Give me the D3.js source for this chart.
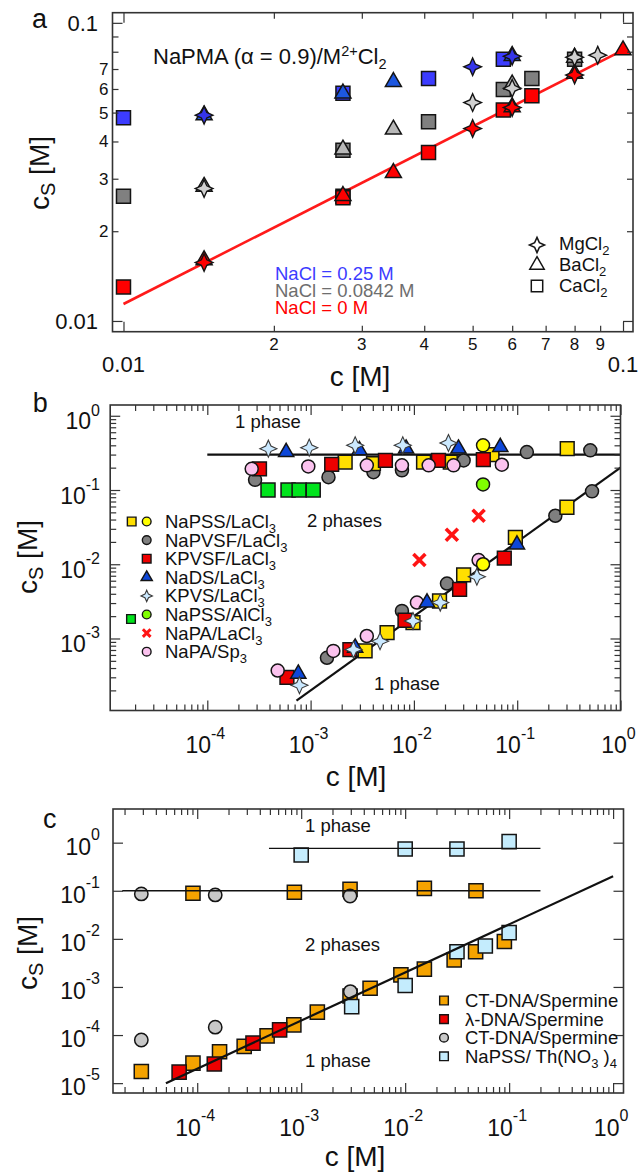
<!DOCTYPE html>
<html>
<head>
<meta charset="utf-8">
<script src="https://cdn.jsdelivr.net/npm/d3@7"></script>
<style>
  body { margin: 0; background: #fff; }
  svg { display: block; font-family: "Liberation Sans", Arial, Helvetica, sans-serif; }
</style>
</head>
<body>
<svg id="chart" width="638" height="1173"></svg>
<script>
// ---------- panel a : NaPMA / M2+Cl2, points are [c, cs] in M ----------
const aSqBlue   = [[0.01,0.048],[0.0275,0.058],[0.0408,0.065],[0.0576,0.0755]];
const aSqGray   = [[0.01,0.0262],[0.0275,0.0262],[0.0275,0.0374],[0.0408,0.0466],[0.0576,0.0598],[0.0657,0.0651],[0.08,0.0755]];
const aSqRed    = [[0.01,0.013],[0.0275,0.0259],[0.0408,0.0367],[0.0576,0.051],[0.0657,0.0569]];
const aTriBlue  = [[0.0145,0.049],[0.0275,0.058],[0.0347,0.0634],[0.06,0.0775]];
const aTriGray  = [[0.0145,0.0282],[0.0275,0.0376],[0.0347,0.0439],[0.06,0.0622],[0.08,0.0765]];
const aTriRed   = [[0.0145,0.016],[0.0275,0.0263],[0.0347,0.0314],[0.06,0.0522],[0.08,0.0675],[0.1,0.081]];
const aStarBlue = [[0.0145,0.049],[0.05,0.0712],[0.06,0.0772]];
const aStarGray = [[0.0145,0.0278],[0.05,0.054],[0.06,0.0603],[0.08,0.0766],[0.089,0.0779]];
const aStarRed  = [[0.0145,0.0157],[0.05,0.0442],[0.06,0.052],[0.08,0.0668]];
const aFit      = [[0.01,0.0114],[0.1,0.081]];
const aXTicks = [0.01, 0.1],  aXTickLabels = ['0.01', '0.1'];
const aXMinor = [0.02,0.03,0.04,0.05,0.06,0.07,0.08,0.09], aXMinorLabels = ['2','3','4','5','6','7','8','9'];
const aYTicks = [0.01, 0.1],  aYTickLabels = ['0.01', '0.1'];
const aYMinor = [0.02,0.03,0.04,0.05,0.06,0.07], aYMinorLabels = ['2','3','4','5','6','7'];
const aSaltLabels = ['NaCl = 0.25 M', 'NaCl = 0.0842 M', 'NaCl = 0 M'];
const aShapeLabels = ['MgCl', 'BaCl', 'CaCl'];

// ---------- panel b : trivalent salts ----------
const bNaPSSsq  = [[2.16e-3,0.238],[4.06e-3,0.226],[0.0124,0.238],[0.0225,0.238],[0.057,0.3],[0.305,0.36],
                   [3.37e-3,6.8e-4],[5.5e-3,1.2e-3],[9.8e-3,1.64e-3],[0.0177,3.2e-3],[0.0303,7.2e-3],[0.096,0.023],[0.303,0.0586]];
const bNaPSScir = [[0.0467,0.4],[0.0467,0.01]];
const bNaPVSF   = [[2.9e-4,0.137],[1.49e-3,0.149],[4.06e-3,0.174],[7.66e-3,0.184],[0.0303,0.25],[0.124,0.324],[0.51,0.342],
                   [1.44e-3,5.5e-4],[7.66e-3,2.35e-3],[0.0209,5.5e-3],[0.234,0.045],[0.53,0.096]];
const bKPVSF    = [[3.2e-4,0.193],[1.6e-3,0.221],[5.3e-3,0.25],[0.0173,0.25],[0.047,0.256],
                   [5.9e-4,3e-4],[2.4e-3,7.1e-4],[8.2e-3,1.76e-3],[0.0277,4.6e-3],[0.075,0.0121]];
const bNaDS     = [[5.8e-4,0.324],[2.97e-3,0.342],[8.4e-3,0.36],[0.027,0.36],[0.0686,0.379],
                   [7.6e-4,3.35e-4],[2.7e-3,7.5e-4],[0.0134,3.05e-3],[0.0995,0.0184]];
const bKPVS     = [[3.9e-4,0.36],[9.7e-4,0.372],[2.7e-3,0.4],[7.8e-3,0.4],[0.0216,0.43],
                   [7.8e-4,2.35e-4],[2.6e-3,7.1e-4],[4.7e-3,9.2e-4],[9.8e-3,1.72e-3],[0.018,3.05e-3],[0.0407,6.8e-3]];
const bNaPSSAl  = [[0.0467,0.119]];
const bGreenSq  = [[3.87e-4,0.1],[6.05e-4,0.1],[7.74e-4,0.1],[1.06e-3,0.1]];
const bNaPA     = [[0.0113,0.0114],[0.0233,0.025],[0.0423,0.045]];
const bNaPASp   = [[2.69e-4,0.193],[9.5e-4,0.208],[3.5e-3,0.215],[7.66e-3,0.215],[0.0139,0.215],[0.0242,0.215],[0.071,0.219],
                   [4.8e-4,3.7e-4],[1.66e-3,6.8e-4],[3.5e-3,1.08e-3],[0.0107,3.05e-3],[0.0423,0.0114]];
const bUpper = [[1e-4,0.3],[1,0.3]];
const bLower = [[7.3e-4,1.46e-4],[1,0.2]];
const bXExp = [-4,-3,-2,-1,0];
const bYExp = [-3,-2,-1,0];
const bLegend = ['NaPSS/LaCl', 'NaPVSF/LaCl', 'KPVSF/LaCl', 'NaDS/LaCl', 'KPVS/LaCl', 'NaPSS/AlCl', 'NaPA/LaCl', 'NaPA/Sp'];

// ---------- panel c : DNA / spermine, NaPSS / Th4+ ----------
const cCTsq   = [[9.1e-5,0.0886],[8.6e-4,0.093],[2.95e-3,0.107],[0.0153,0.112],[0.048,0.1],
                 [2.9e-5,1.75e-5],[9.1e-5,2.6e-5],[1.64e-4,4.5e-5],[2.83e-4,5.8e-5],[4.7e-4,9.6e-5],[8.5e-4,1.63e-4],
                 [1.43e-3,3e-4],[2.95e-3,6.5e-4],[4.6e-3,9.4e-4],[9.1e-3,1.78e-3],[0.0153,2.34e-3],[0.0296,3.65e-3],
                 [0.0476,5.4e-3],[0.09,8.8e-3]];
const cLambda = [[6.7e-5,1.7e-5],[1.46e-4,2.5e-5],[3.44e-4,6.8e-5],[6.2e-4,1.28e-4]];
const cCTcirc = [[2.9e-5,0.086],[1.49e-4,0.082],[2.95e-3,0.078],[2.9e-5,7.9e-5],[1.49e-4,1.46e-4],[2.97e-3,8e-4]];
const cNaPSSTh = [[1e-3,0.555],[0.01,0.74],[0.0315,0.74],[0.1,1.05],
                  [3.06e-3,3.9e-4],[0.01,1.07e-3],[0.0315,5.4e-3],[0.059,7.1e-3],[0.1,0.0135]];
const cUpper = [[4.9e-4,0.76],[0.2,0.76]];
const cMid   = [[1.9e-5,0.1],[0.2,0.1]];
const cDiag  = [[5e-5,1e-5],[1,0.2]];
const cXExp = [-4,-3,-2,-1,0];
const cYExp = [-5,-4,-3,-2,-1,0];
const cLegend = ['CT-DNA/Spermine', 'λ-DNA/Spermine', 'CT-DNA/Spermine', 'NaPSS/ Th(NO'];

// ---------------------------------------------------------------------
const svg = d3.select('#chart');
const EDGE = '#141414';

// four pointed star, size = (outer diameter)^2
const star4 = {
  draw(ctx, size) {
    const r = Math.sqrt(size) / 2, ri = r * 0.44;
    for (let i = 0; i < 8; i++) {
      const a = i * Math.PI / 4 - Math.PI / 2, rr = i % 2 ? ri : r;
      const px = rr * Math.cos(a), py = rr * Math.sin(a);
      if (i) ctx.lineTo(px, py); else ctx.moveTo(px, py);
    }
    ctx.closePath();
  }
};

function minorTicks(domain) {
  const out = [];
  for (let k = Math.floor(Math.log10(domain[0])); k <= Math.ceil(Math.log10(domain[1])); k++) {
    for (let m = 2; m <= 9; m++) {
      const v = m * Math.pow(10, k);
      if (v >= domain[0] && v <= domain[1]) out.push(v);
    }
  }
  return out;
}

// builds scales, inward ticks on all four sides and the frame
function panel(p) {
  const x = d3.scaleLog().domain(p.xDom).range([p.left, p.right]);
  const y = d3.scaleLog().domain(p.yDom).range([p.bottom, p.top]);
  const g = svg.append('g');
  const marks = g.append('g');
  const axes = g.append('g');

  const tick = (axis, vals, len, tr) => {
    axes.append('g')
      .attr('transform', tr)
      .call(axis.tickValues(vals).tickSize(-len).tickFormat(''))
      .call(s => s.select('.domain').remove())
      .selectAll('line')
      .attr('stroke', '#333')
      .attr('stroke-width', 1.2);
  };
  tick(d3.axisBottom(x), p.xMajor, 10, `translate(0,${p.bottom})`);
  tick(d3.axisTop(x), p.xMajor, 10, `translate(0,${p.top})`);
  tick(d3.axisLeft(y), p.yMajor, 10, `translate(${p.left},0)`);
  tick(d3.axisRight(y), p.yMajor, 10, `translate(${p.right},0)`);
  if (p.xMinor) {
    tick(d3.axisBottom(x), p.xMinor, 6, `translate(0,${p.bottom})`);
    tick(d3.axisTop(x), p.xMinor, 6, `translate(0,${p.top})`);
  }
  if (p.yMinor) {
    tick(d3.axisLeft(y), p.yMinor, 6, `translate(${p.left},0)`);
    tick(d3.axisRight(y), p.yMinor, 6, `translate(${p.right},0)`);
  }
  axes.append('rect')
    .attr('x', p.left).attr('y', p.top)
    .attr('width', p.right - p.left).attr('height', p.bottom - p.top)
    .attr('fill', 'none').attr('stroke', '#333').attr('stroke-width', 1.6);
  return { x, y, g, marks, p };
}

function points(P, data, type, size, fill, sw = 1.5, edge = EDGE) {
  P.marks.append('g').selectAll('path')
    .data(data)
    .join('path')
    .attr('transform', d => `translate(${P.x(d[0])},${P.y(d[1])})`)
    .attr('d', d3.symbol(type, size))
    .attr('fill', fill)
    .attr('stroke', edge)
    .attr('stroke-width', sw)
    .attr('stroke-linejoin', 'miter');
}

function crosses(P, data, color) {
  P.marks.append('g').selectAll('path')
    .data(data)
    .join('path')
    .attr('transform', d => `translate(${P.x(d[0])},${P.y(d[1])})`)
    .attr('d', d3.symbol(d3.symbolTimes, 95))
    .attr('fill', 'none')
    .attr('stroke', color)
    .attr('stroke-width', 3.6);
}

function fitLine(P, data, color, width) {
  P.marks.append('path')
    .datum(data)
    .attr('fill', 'none')
    .attr('stroke', color)
    .attr('stroke-width', width)
    .attr('d', d3.line().x(d => P.x(d[0])).y(d => P.y(d[1])));
}

// label like "10" with a raised exponent
function powLabel(sel, base, exp, baseSize, expSize, expDy) {
  sel.append('tspan').attr('font-size', baseSize).text(base);
  sel.append('tspan').attr('font-size', expSize).attr('dy', expDy).text(exp);
}

function txt(x, y, size, color, anchor = 'start') {
  return svg.append('text')
    .attr('x', x).attr('y', y)
    .attr('font-size', size)
    .attr('fill', color)
    .attr('text-anchor', anchor);
}

function sub(t, s, size, dy) {
  t.append('tspan').attr('font-size', size).attr('dy', dy).text(s);
  return t;
}

// axis titles: c_S [M] rotated, c [M] below
function yTitle(x, y) {
  const t = svg.append('text')
    .attr('transform', `translate(${x},${y}) rotate(-90)`)
    .attr('text-anchor', 'middle')
    .attr('font-size', 28)
    .attr('fill', '#111');
  t.append('tspan').text('c');
  t.append('tspan').attr('font-size', 20).attr('dy', 6).text('S');
  t.append('tspan').attr('dy', -6).text(' [M]');
}
function xTitle(x, y) {
  txt(x, y, 28, '#111', 'middle').text('c [M]');
}

// ====================== panel a ======================
const A = panel({
  xDom: [Math.pow(10, -2.022), Math.pow(10, -0.98)],
  yDom: [Math.pow(10, -2.036), Math.pow(10, -0.966)],
  left: 112.5, right: 633, top: 12.7, bottom: 331.7,
  xMajor: aXTicks, xMinor: aXMinor, yMajor: aYTicks, yMinor: minorTicks([0.0095, 0.099])
});

fitLine(A, aFit, '#ff1a1a', 2.6);
points(A, aSqGray, d3.symbolSquare, 196, '#808080');
points(A, aSqBlue, d3.symbolSquare, 196, '#3c3cff');
points(A, aSqRed, d3.symbolSquare, 196, '#ff0000');
points(A, aTriGray, d3.symbolTriangle, 111, '#b8b8b8');
points(A, aTriBlue, d3.symbolTriangle, 111, '#1d57e0');
points(A, aTriRed, d3.symbolTriangle, 111, '#ff0000');
points(A, aStarGray, star4, 310, '#d0d0d0', 1.4);
points(A, aStarBlue, star4, 310, '#3535ea', 1.4);
points(A, aStarRed, star4, 310, '#ff0000', 1.4);

A.g.append('g').selectAll('text')
  .data(aXTicks)
  .join('text')
  .attr('x', d => A.x(d)).attr('y', A.p.bottom + 40)
  .attr('text-anchor', 'middle').attr('font-size', 22).attr('fill', '#111')
  .text((d, i) => aXTickLabels[i]);
A.g.append('g').selectAll('text')
  .data(aXMinor)
  .join('text')
  .attr('x', d => A.x(d)).attr('y', A.p.bottom + 18.5)
  .attr('text-anchor', 'middle').attr('font-size', 17).attr('fill', '#111')
  .text((d, i) => aXMinorLabels[i]);
A.g.append('g').selectAll('text')
  .data(aYTicks)
  .join('text')
  .attr('x', 98).attr('y', d => A.y(d) + 8)
  .attr('text-anchor', 'end').attr('font-size', 22).attr('fill', '#111')
  .text((d, i) => aYTickLabels[i]);
A.g.append('g').selectAll('text')
  .data(aYMinor)
  .join('text')
  .attr('x', 108.5).attr('y', d => A.y(d) + 6)
  .attr('text-anchor', 'end').attr('font-size', 17).attr('fill', '#111')
  .text((d, i) => aYMinorLabels[i]);

txt(32, 28.3, 27, '#111').text('a');
yTitle(49, 173);
xTitle(360, 386);

{
  const t = txt(153, 64, 22, '#111').text('NaPMA (α = 0.9)/M');
  t.append('tspan').attr('font-size', 14.5).attr('dy', -8).text('2+');
  t.append('tspan').attr('dy', 8).text('Cl');
  sub(t, '2', 14.5, 5);
}
['#3c3cff', '#6e6e6e', '#ff0000'].forEach((col, i) => {
  txt(275, 279.5 + i * 17.4, 18.5, col).text(aSaltLabels[i]);
});
// open-symbol legend
const aLegTypes = [[star4, 230], [d3.symbolTriangle, 90], [d3.symbolSquare, 130]];
const aLegY = [245, 265, 286];
aLegTypes.forEach((tp, i) => {
  svg.append('path')
    .attr('transform', `translate(537,${aLegY[i]})`)
    .attr('d', d3.symbol(tp[0], tp[1]))
    .attr('fill', '#fff').attr('stroke', EDGE).attr('stroke-width', 1.5);
  const t = txt(559, aLegY[i] + 5 + i * 0.6, 18.5, '#111').text(aShapeLabels[i]);
  sub(t, '2', 13, 5);
});

// ====================== panel b ======================
const B = panel({
  xDom: [Math.pow(10, -4.94), 1],
  yDom: [Math.pow(10, -3.97), Math.pow(10, 0.145)],
  left: 110.2, right: 620.5, top: 405, bottom: 710.5,
  xMajor: bXExp.map(e => Math.pow(10, e)), xMinor: minorTicks([Math.pow(10, -4.94), 1]),
  yMajor: bYExp.map(e => Math.pow(10, e)), yMinor: minorTicks([Math.pow(10, -3.97), Math.pow(10, 0.145)])
});

fitLine(B, bUpper, '#111', 2.2);
fitLine(B, bLower, '#111', 2.2);
points(B, bNaPVSF, d3.symbolCircle, 133, '#7f7f7f');
points(B, bNaPSSsq, d3.symbolSquare, 190, '#ffdf00');
points(B, bKPVSF, d3.symbolSquare, 190, '#ee0000');
points(B, bNaPASp, d3.symbolCircle, 133, '#fbc2ee');
points(B, bGreenSq, d3.symbolSquare, 196, '#00e41c');
points(B, bNaDS, d3.symbolTriangle, 100, '#0d47d9');
points(B, bKPVS, star4, 290, '#cbe9ff', 1.1, '#3a3a3a');
points(B, bNaPSScir, d3.symbolCircle, 133, '#ffff00');
points(B, bNaPSSAl, d3.symbolCircle, 133, '#80ff00');
crosses(B, bNaPA, '#ff1414');

B.g.append('g').selectAll('text')
  .data(bXExp)
  .join('text')
  .attr('x', d => B.x(Math.pow(10, d)) - 2).attr('y', 753)
  .attr('text-anchor', 'middle').attr('fill', '#111')
  .each(function (d) { powLabel(d3.select(this), '10', String(d), 23, 16, -14); });
B.g.append('g').selectAll('text')
  .data(bYExp)
  .join('text')
  .attr('x', 100).attr('y', d => B.y(Math.pow(10, d)) + 13.5)
  .attr('text-anchor', 'end').attr('fill', '#111')
  .each(function (d) { powLabel(d3.select(this), '10', String(d), 23, 16, -13.5); });

txt(32.7, 411.7, 27, '#111').text('b');
yTitle(37, 557);
xTitle(356, 786);

txt(235, 428.3, 18.5, '#111').text('1 phase');
txt(307, 527, 18.5, '#111').text('2 phases');
txt(374, 689.5, 18.5, '#111').text('1 phase');

// legend b
const bLegY = d3.range(8).map(i => 528 + i * 18.6);
const bLegMarks = [
  [d3.symbolCircle, 60, '#ffff00'], [d3.symbolCircle, 60, '#7f7f7f'], [d3.symbolSquare, 75, '#ee0000'],
  [d3.symbolTriangle, 55, '#0d47d9'], [star4, 130, '#cbe9ff'], [d3.symbolCircle, 60, '#80ff00'],
  [null, 0, '#ff1414'], [d3.symbolCircle, 60, '#fbc2ee']
];
bLegMarks.forEach((m, i) => {
  const cy = bLegY[i] - 6.5;
  if (m[0]) {
    svg.append('path')
      .attr('transform', `translate(146.7,${cy})`)
      .attr('d', d3.symbol(m[0], m[1]))
      .attr('fill', m[2]).attr('stroke', m[0] === star4 ? '#3a3a3a' : EDGE)
      .attr('stroke-width', m[0] === star4 ? 1.1 : 1.4);
  } else {
    svg.append('path')
      .attr('transform', `translate(146.7,${cy})`)
      .attr('d', d3.symbol(d3.symbolTimes, 40))
      .attr('fill', 'none').attr('stroke', m[2]).attr('stroke-width', 3);
  }
  const t = txt(165, bLegY[i], 18.5, '#111').text(bLegend[i]);
  sub(t, '3', 13, 5);
});
[[131.7, bLegY[0] - 6.5, '#ffdf00'], [131, 619, '#00e41c']].forEach(s => {
  svg.append('path')
    .attr('transform', `translate(${s[0]},${s[1]})`)
    .attr('d', d3.symbol(d3.symbolSquare, 75))
    .attr('fill', s[2]).attr('stroke', EDGE).attr('stroke-width', 1.4);
});

// ====================== panel c ======================
const C = panel({
  xDom: [Math.pow(10, -4.81), Math.pow(10, 0.1)],
  yDom: [Math.pow(10, -5.205), Math.pow(10, 0.70)],
  left: 113, right: 623.5, top: 809, bottom: 1093,
  xMajor: cXExp.map(e => Math.pow(10, e)), xMinor: minorTicks([Math.pow(10, -4.81), Math.pow(10, 0.1)]),
  yMajor: cYExp.map(e => Math.pow(10, e))
});

points(C, cCTsq, d3.symbolSquare, 200, '#f5a300');
points(C, cLambda, d3.symbolSquare, 200, '#ee0000');
points(C, cCTcirc, d3.symbolCircle, 140, '#c8c8c8');
points(C, cNaPSSTh, d3.symbolSquare, 200, '#c4ecfd');
fitLine(C, cUpper, '#111', 1.4);
fitLine(C, cMid, '#111', 1.4);
fitLine(C, cDiag, '#111', 2.2);

C.g.append('g').selectAll('text')
  .data(cXExp)
  .join('text')
  .attr('x', d => C.x(Math.pow(10, d)) - 2).attr('y', 1136)
  .attr('text-anchor', 'middle').attr('fill', '#111')
  .each(function (d) { powLabel(d3.select(this), '10', String(d), 23, 16, -15); });
C.g.append('g').selectAll('text')
  .data(cYExp)
  .join('text')
  .attr('x', 100).attr('y', d => C.y(Math.pow(10, d)) + 12)
  .attr('text-anchor', 'end').attr('fill', '#111')
  .each(function (d) { powLabel(d3.select(this), '10', String(d), 23, 16, -15); });

txt(43, 828, 27, '#111').text('c');
yTitle(37, 953);
xTitle(355, 1166);

txt(305, 832, 18.5, '#111').text('1 phase');
txt(305, 950.5, 18.5, '#111').text('2 phases');
txt(305, 1067, 18.5, '#111').text('1 phase');

// legend c
const cLegMarks = [[d3.symbolSquare, '#f5a300'], [d3.symbolSquare, '#ee0000'], [d3.symbolCircle, '#c8c8c8'], [d3.symbolSquare, '#c4ecfd']];
cLegMarks.forEach((m, i) => {
  const base = 1007 + i * 18.6;
  svg.append('path')
    .attr('transform', `translate(444,${base - 6.5})`)
    .attr('d', d3.symbol(m[0], m[0] === d3.symbolCircle ? 60 : 75))
    .attr('fill', m[1]).attr('stroke', EDGE).attr('stroke-width', 1.4);
  const t = txt(465, base, 18.5, '#111').text(cLegend[i]);
  if (i === 3) {
    sub(t, '3', 13, 5);
    t.append('tspan').attr('dy', -5).text(' )');
    sub(t, '4', 13, 5);
  }
});
</script>
</body>
</html>
